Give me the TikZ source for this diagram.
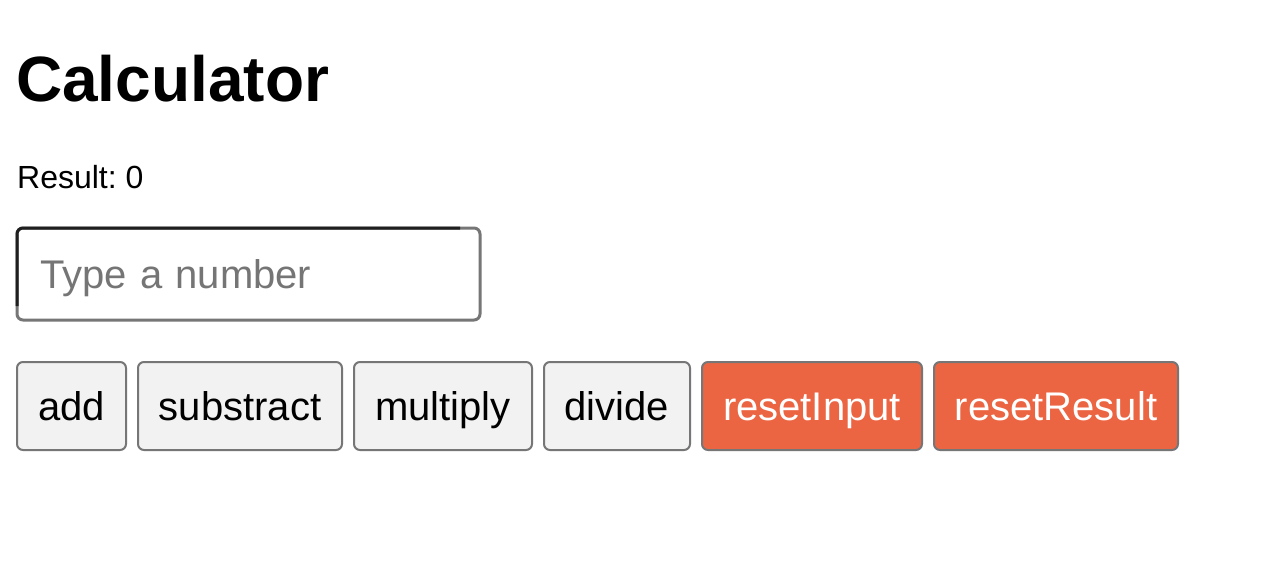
\documentclass[tikz,border=0pt]{standalone}
\usepackage{fontspec}
\setmainfont{Liberation Sans}
\frenchspacing
\definecolor{btnfill}{HTML}{F2F2F2}
\definecolor{btnborder}{HTML}{767676}
\definecolor{btnorange}{HTML}{EC6543}
\definecolor{placeholder}{HTML}{757575}
\definecolor{inputdark}{HTML}{1F1F1F}
\tikzset{
  btn/.style={draw=btnborder, line width=2pt, rounded corners=6pt, fill=btnfill,
    inner xsep=0pt, inner ysep=0pt, outer sep=0pt, text height=58pt, text depth=30pt,
    minimum width=#1, align=center, font=\fontsize{40}{40}\selectfont},
  orangebtn/.style={btn=#1, fill=btnorange, text=white},
  plaintext/.style={anchor=base west, inner sep=0pt},
}
\begin{document}
\begin{tikzpicture}[x=1pt, y=-1pt]
\useasboundingbox (0,0) rectangle (1276,586);
\fill[white] (0,0) rectangle (1276,586);
\node[plaintext, font=\fontsize{64}{64}\selectfont\bfseries] (title) at (16,101) {Calculator};
\node[plaintext, font=\fontsize{32}{32}\selectfont\frenchspacing] (result) at (17,188) {Result: 0};
\node[draw=btnborder, line width=3pt, rounded corners=6pt, anchor=west,
  inner xsep=23pt, inner ysep=0pt, outer sep=0pt, text height=60pt, text depth=32pt,
  text width=417pt, align=left, text=placeholder,
  font=\fontsize{40}{40}\selectfont\frenchspacing] (inp) at (17,274) {Type a number};
\draw[inputdark, line width=3pt, rounded corners=6pt]
  ([yshift=14pt]inp.south west) -- (inp.north west) -- ([xshift=-20pt]inp.north east);
\node[btn=109pt]  (add)  at (71.5,406) {add};
\node[btn=204pt]  (sub)  at (240,406) {substract};
\node[btn=178pt]  (mul)  at (443,406) {multiply};
\node[btn=146pt]  (div)  at (617,406) {divide};
\node[orangebtn=220pt] (rin) at (812,406) {resetInput};
\node[orangebtn=244pt] (rres) at (1056,406) {resetResult};
\end{tikzpicture}
\end{document}
